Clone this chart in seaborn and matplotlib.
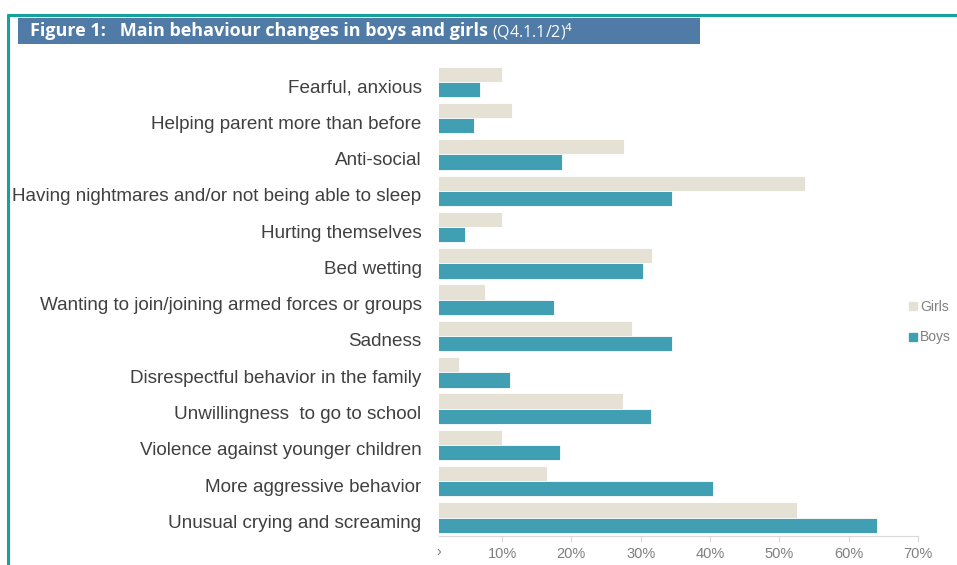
import numpy as np
import pandas as pd
import matplotlib.pyplot as plt
import matplotlib.transforms as mtransforms
import seaborn as sns
from matplotlib.patches import Rectangle
from matplotlib.lines import Line2D

# Data (percent)
categories = [
    "Fearful, anxious",
    "Helping parent more than before",
    "Anti-social",
    "Having nightmares and/or not being able to sleep",
    "Hurting themselves",
    "Bed wetting",
    "Wanting to join/joining armed forces or groups",
    "Sadness",
    "Disrespectful behavior in the family",
    "Unwillingness  to go to school",
    "Violence against younger children",
    "More aggressive behavior",
    "Unusual crying and screaming",
]
girls = [10.0, 11.5, 27.6, 53.7, 10.0, 31.7, 7.5, 28.8, 3.8, 27.4, 10.0, 16.5, 52.6]
boys = [6.8, 6.0, 18.6, 34.5, 4.7, 30.3, 17.5, 34.5, 11.1, 31.5, 18.3, 40.5, 64.1]
groups = ["Girls", "Boys"]
x_ticks = [10, 20, 30, 40, 50, 60, 70]

girls_color = "#E5E1D4"
boys_color = "#419FB4"

df = pd.DataFrame({
    "category": categories * 2,
    "group": ["Girls"] * len(categories) + ["Boys"] * len(categories),
    "value": girls + boys,
})

sns.set_style("white")
plt.rcParams["font.family"] = ["Liberation Sans", "DejaVu Sans"]

fig = plt.figure(figsize=(9.57, 5.65), dpi=100)
ax = fig.add_axes([0.4587, 0.0519, 0.5005, 0.8354])

sns.barplot(data=df, y="category", x="value", hue="group", order=categories,
            hue_order=groups, palette=[girls_color, boys_color], orient="h",
            width=0.84, saturation=1, edgecolor="white", linewidth=0.6, ax=ax,
            legend=False)

ax.set_xlim(0.9, 70)
ax.set_xticks(x_ticks)
ax.set_xticklabels([f"{t}%" for t in x_ticks], color="#7F7F7F", fontsize=10.5)
ax.set_xlabel("")
ax.set_ylabel("")
ax.tick_params(axis="y", length=0, pad=12.5, labelsize=13.6, labelcolor="#404040")
ax.tick_params(axis="x", length=4, color="#D9D9D9", pad=4, direction="out", bottom=True)
for side in ["top", "right", "left"]:
    ax.spines[side].set_visible(False)
ax.spines["bottom"].set_color("#D9D9D9")

# category labels sit a little below the middle of each pair of bars
shift = mtransforms.ScaledTranslation(0, -0.04, fig.dpi_scale_trans)
for lab in ax.get_yticklabels():
    lab.set_transform(lab.get_transform() + shift)

# clipped "0%" fragment at the axis start
fig.text(0.4587, 0.0235, "›", color="#7F7F7F", fontsize=10, ha="center", va="center")

# legend on the right
handles = [Line2D([], [], marker="s", linestyle="", markersize=6,
                  markerfacecolor=c, markeredgecolor=c) for c in [girls_color, boys_color]]
leg = fig.legend(handles, groups, loc="center left", bbox_to_anchor=(0.935, 0.43),
                 frameon=False, fontsize=10, handletextpad=0.1, labelspacing=1.2,
                 handlelength=0.8)
for t in leg.get_texts():
    t.set_color("#7F7F7F")

# teal frame and title banner
fig.add_artist(Line2D([0.008, 1.0], [1 - 14.5 / 565, 1 - 14.5 / 565],
                      color="#12A39B", linewidth=2.2, transform=fig.transFigure))
fig.add_artist(Line2D([0.0085, 0.0085], [0.0, 1 - 14.5 / 565],
                      color="#12A39B", linewidth=2.2, transform=fig.transFigure))
fig.add_artist(Rectangle((17.5 / 957, 1 - 44 / 565), (700 - 17.5) / 957, 26 / 565,
                         transform=fig.transFigure, facecolor="#4F7BA6",
                         edgecolor="none"))
title_y = 1 - 31.5 / 565
t1 = fig.text(30 / 957, title_y, "Figure 1:   Main behaviour changes in boys and girls",
              color="white", fontsize=12.95, fontweight="bold", va="center",
              family=["Open Sans", "DejaVu Sans"])
fig.canvas.draw()
bb = t1.get_window_extent()
fig.text(bb.x1 / 957 + 0.004, title_y - 0.001, "(Q4.1.1/2)$^4$", color="white",
         fontsize=11.5, va="center", family=["Open Sans", "DejaVu Sans"])

fig.savefig("out.png", dpi=100)
